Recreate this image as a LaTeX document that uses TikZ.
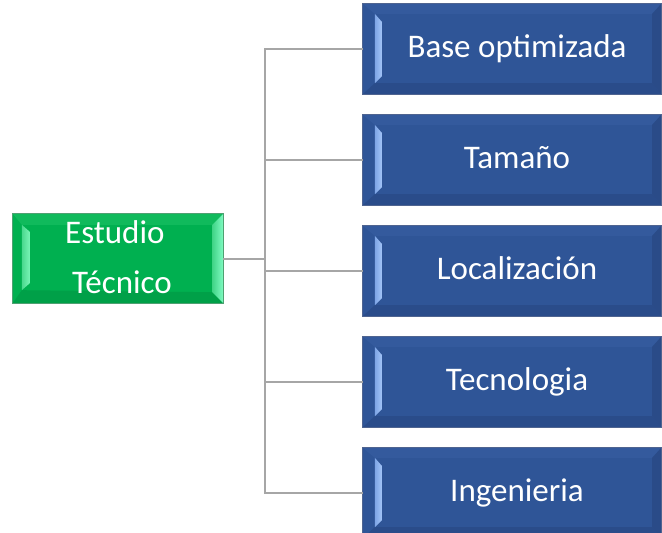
\documentclass[tikz,border=0pt]{standalone}
\usepackage{fontspec}
\setmainfont{Carlito}
\usetikzlibrary{calc}
\definecolor{bface}{HTML}{2F5597}
\definecolor{bborder}{HTML}{4F6490}
\definecolor{bleftA}{HTML}{7EA5E6}
\definecolor{bleftB}{HTML}{A2C4F7}
\definecolor{btop}{HTML}{345A9D}
\definecolor{bbot}{HTML}{2A4C8A}
\definecolor{bright}{HTML}{2A4B88}
\definecolor{gface}{HTML}{00B050}
\definecolor{gborder}{HTML}{4FA072}
\definecolor{gleftA}{HTML}{4AD88E}
\definecolor{gleftB}{HTML}{79F5B6}
\definecolor{gtop}{HTML}{10BA5C}
\definecolor{gbot}{HTML}{00A048}
\definecolor{grightA}{HTML}{40D486}
\definecolor{grightB}{HTML}{80FBC2}
\definecolor{conncol}{HTML}{A6A6A6}
\newcommand{\bluebevel}[1]{%
  \fill[btop] (#1.north west) -- (#1.north east) -- ($(#1.north east)+(-9,10)$) -- ($(#1.north west)+(12,10)$) -- cycle;
  \fill[bbot] (#1.south west) -- (#1.south east) -- ($(#1.south east)+(-9,-11)$) -- ($(#1.south west)+(12,-11)$) -- cycle;
  \fill[bright] (#1.north east) -- (#1.south east) -- ($(#1.south east)+(-9,-11)$) -- ($(#1.north east)+(-9,10)$) -- cycle;
  \shade[left color=bleftA, right color=bleftB] ($(#1.north west)+(12,10)$) -- ($(#1.north west)+(19,18)$) -- ($(#1.south west)+(19,-18)$) -- ($(#1.south west)+(12,-11)$) -- cycle;
  \draw[edge1] (#1.north west) rectangle (#1.south east);
}
\newcommand{\greenbevel}[1]{%
  \fill[gtop] (#1.north west) -- (#1.north east) -- ($(#1.north east)+(-11,11)$) -- ($(#1.north west)+(9,11)$) -- cycle;
  \fill[gbot] (#1.south west) -- (#1.south east) -- ($(#1.south east)+(-11,-11)$) -- ($(#1.south west)+(9,-13)$) -- cycle;
  \shade[left color=grightA, right color=grightB] (#1.north east) -- (#1.south east) -- ($(#1.south east)+(-11,-11)$) -- ($(#1.north east)+(-11,11)$) -- cycle;
  \shade[left color=gleftA, right color=gleftB] ($(#1.north west)+(9,11)$) -- ($(#1.north west)+(17,18)$) -- ($(#1.south west)+(17,-20)$) -- ($(#1.south west)+(9,-13)$) -- cycle;
  \draw[edge2] (#1.north west) rectangle (#1.south east);
}
\begin{document}
\begin{tikzpicture}[x=1bp,y=-1bp,
  bluebox/.style={rectangle, fill=bface, minimum width=298bp, minimum height=90bp, inner sep=0pt,
    text=white, font=\fontsize{33bp}{40bp}\selectfont, text height=20bp, text depth=3bp},
  greenbox/.style={rectangle, fill=gface, minimum width=210bp, minimum height=89bp, inner sep=0pt},
  greentext/.style={anchor=base west, inner sep=0pt, text=white, font=\fontsize{33bp}{40bp}\selectfont},
  conn/.style={draw=conncol, line width=2bp},
  edge1/.style={draw=bborder, line width=1bp},
  edge2/.style={draw=gborder, line width=1bp}]
\useasboundingbox (0,0) rectangle (662,533);
\clip (0,0) rectangle (662,533);
\fill[white] (0,0) rectangle (662,533);

\coordinate (hub) at (265,258.5);

\node[greenbox] (g) at (118,258.5) {};
\greenbevel{g}
\node[greentext] (e1) at (65,244) {Estudio};
\node[greentext] (e2) at (72,293) {Técnico};

\foreach \n/\y/\t in {b1/49/Base optimizada, b2/160/Tamaño, b3/271/Localización, b4/382/Tecnologia, b5/493/Ingenieria}{
  \node[bluebox] (\n) at (512,\y) {\hspace*{10bp}\t};
  \bluebevel{\n}
}

\draw[conn] (g.east) -- (hub);
\foreach \n in {b1,b2,b3,b4,b5}{
  \draw[conn] (hub) |- (\n.west);
}
\end{tikzpicture}
\end{document}
